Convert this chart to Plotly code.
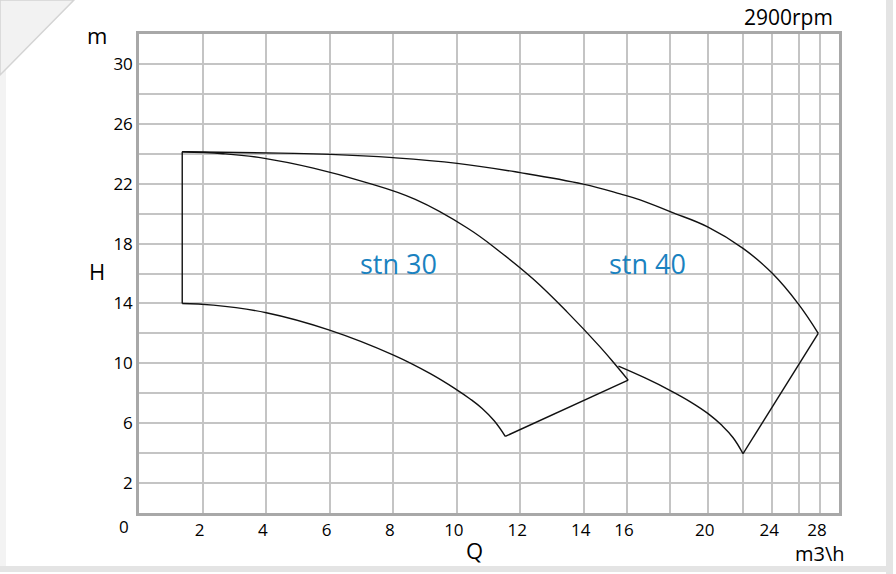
import numpy as np
import plotly.graph_objects as go

# ---- axis scale (non-linear Q axis): Q grid values and their relative axis positions
Q_GRID = [0, 2, 4, 6, 8, 10, 12, 14, 16, 18, 20, 22, 24, 26, 28, 30]
Q_POS = [0, 63.6, 127.0, 190.6, 254.0, 318.0, 381.3, 445.0, 488.3, 531.6, 569.0, 604.0, 633.6, 660.6, 681.3, 700.3]
Q_LABELS = ["", "2", "4", "6", "8", "10", "12", "14", "16", "", "20", "", "24", "", "28", ""]

H_GRID = list(range(0, 33, 2))
H_LABELS = [str(v) if v % 4 == 2 else "" for v in H_GRID]

# ---- stn 30 envelope
stn30_left_q = [1.36, 1.36]
stn30_left_h = [14.0, 24.13]
stn30_top_q = [1.36, 2.65, 3.91, 5.49, 7.06, 8.70, 10.33, 11.37, 12.41, 13.48, 14.75, 15.54, 16.05]
stn30_top_h = [24.13, 24.0, 23.71, 23.04, 22.14, 20.95, 19.04, 17.44, 15.63, 13.42, 11.10, 9.77, 8.88]
stn30_end_q = [16.05, 11.53]
stn30_end_h = [8.88, 5.12]
stn30_bot_q = [1.36, 2.33, 4.01, 6.0, 8.02, 9.17, 10.0, 10.42, 10.8, 11.18, 11.53]
stn30_bot_h = [14.0, 13.89, 13.38, 12.22, 10.55, 9.31, 8.23, 7.62, 6.98, 6.16, 5.12]

# ---- stn 40 envelope
stn40_top_q = [1.36, 4.45, 6.02, 8.0, 10.01, 12.0, 13.98, 15.68, 16.6, 17.99, 20.02, 22.02, 23.98, 25.91, 27.83]
stn40_top_h = [24.13, 24.04, 23.96, 23.74, 23.36, 22.74, 21.97, 21.32, 20.92, 20.13, 19.10, 17.68, 16.03, 13.99, 12.0]
stn40_end_q = [27.83, 22.02]
stn40_end_h = [12.0, 3.96]
stn40_bot_q = [15.6, 16.83, 18.0, 19.07, 20.02, 20.82, 21.45, 22.02]
stn40_bot_h = [9.81, 9.02, 8.18, 7.43, 6.64, 5.84, 5.03, 3.96]

LABELS = [("stn 30", 8.19, 16.7), ("stn 40", 16.92, 16.7)]


def qx(q):
    return np.interp(np.asarray(q, dtype=float), Q_GRID, Q_POS)


FONT = "Open Sans, Noto Sans, sans-serif"
fig = go.Figure()

segments = [
    (stn30_left_q, stn30_left_h, "linear"),
    (stn30_top_q, stn30_top_h, "spline"),
    (stn30_end_q, stn30_end_h, "linear"),
    (stn30_bot_q, stn30_bot_h, "spline"),
    (stn40_top_q, stn40_top_h, "spline"),
    (stn40_end_q, stn40_end_h, "linear"),
    (stn40_bot_q, stn40_bot_h, "spline"),
]
for q, h, shape in segments:
    fig.add_trace(go.Scatter(
        x=qx(q), y=h, mode="lines",
        line=dict(color="#111111", width=1.4, shape=shape, smoothing=1.2),
        hoverinfo="skip", showlegend=False,
    ))

for text, q, h in LABELS:
    fig.add_annotation(x=float(qx(q)), y=h, text=text, showarrow=False,
                       xanchor="center", yanchor="middle",
                       font=dict(family=FONT, size=27, color="#1a82c0"))

L, R, T, B = 139, 57, 34, 61
W, Hh = 896, 574
PW, PH = W - L - R, Hh - T - B


def px(x):
    return (x - L) / PW


def py(y):
    return (Hh - B - y) / PH


txt = [
    ("m", 97, 35, 22), ("H", 97, 271, 22), ("0", 124, 526, 17),
    ("Q", 474, 550, 22), ("m3\\h", 820, 553, 20), ("2900rpm", 788, 17, 21),
]
for t, x, y, s in txt:
    fig.add_annotation(xref="paper", yref="paper", x=px(x), y=py(y), text=t,
                       showarrow=False, xanchor="center", yanchor="middle",
                       font=dict(family=FONT, size=s, color="#000000"))

# card decoration (shadow edges and folded corner)
shapes = [
    dict(type="rect", xref="paper", yref="paper", x0=px(886), x1=px(893), y0=py(574), y1=py(0),
         fillcolor="#e4e4e4", line_width=0, layer="below"),
    dict(type="rect", xref="paper", yref="paper", x0=px(0), x1=px(893), y0=py(572), y1=py(566),
         fillcolor="#e4e4e4", line_width=0, layer="below"),
    dict(type="rect", xref="paper", yref="paper", x0=px(0), x1=px(6), y0=py(566), y1=py(67),
         fillcolor="#f3f3f3", line_width=0, layer="below"),
    dict(type="path", xref="paper", yref="paper",
         path=f"M {px(0)},{py(0)} L {px(74)},{py(0)} L {px(8)},{py(67)} L {px(0)},{py(75)} Z",
         fillcolor="#f2f2f2", line=dict(color="#d4d4d4", width=1.5), layer="below"),
]

fig.update_layout(
    width=W, height=Hh,
    margin=dict(l=L, r=R, t=T, b=B, pad=0),
    paper_bgcolor="#ffffff", plot_bgcolor="#ffffff",
    font=dict(family=FONT, size=17, color="#000000"),
    shapes=shapes,
    xaxis=dict(range=[0, Q_POS[-1]], tickmode="array", tickvals=Q_POS, ticktext=Q_LABELS,
               showgrid=True, gridcolor="#c4c4c4", gridwidth=1.5, zeroline=False,
               showline=True, linecolor="#a8a8a8", linewidth=2.5, mirror=True,
               ticks="", ticklabelshift=-3,
               tickfont=dict(family=FONT, size=17, color="#000000"), fixedrange=True),
    yaxis=dict(range=[0, 32], tickmode="array", tickvals=H_GRID, ticktext=H_LABELS,
               showgrid=True, gridcolor="#c4c4c4", gridwidth=1.5, zeroline=False,
               showline=True, linecolor="#a8a8a8", linewidth=2.5, mirror=True,
               ticks="",
               tickfont=dict(family=FONT, size=17, color="#000000"), fixedrange=True),
)

fig.write_html("out.html", config={"displayModeBar": False},
               post_script="document.body.style.margin='0px';document.body.style.overflow='hidden';")
